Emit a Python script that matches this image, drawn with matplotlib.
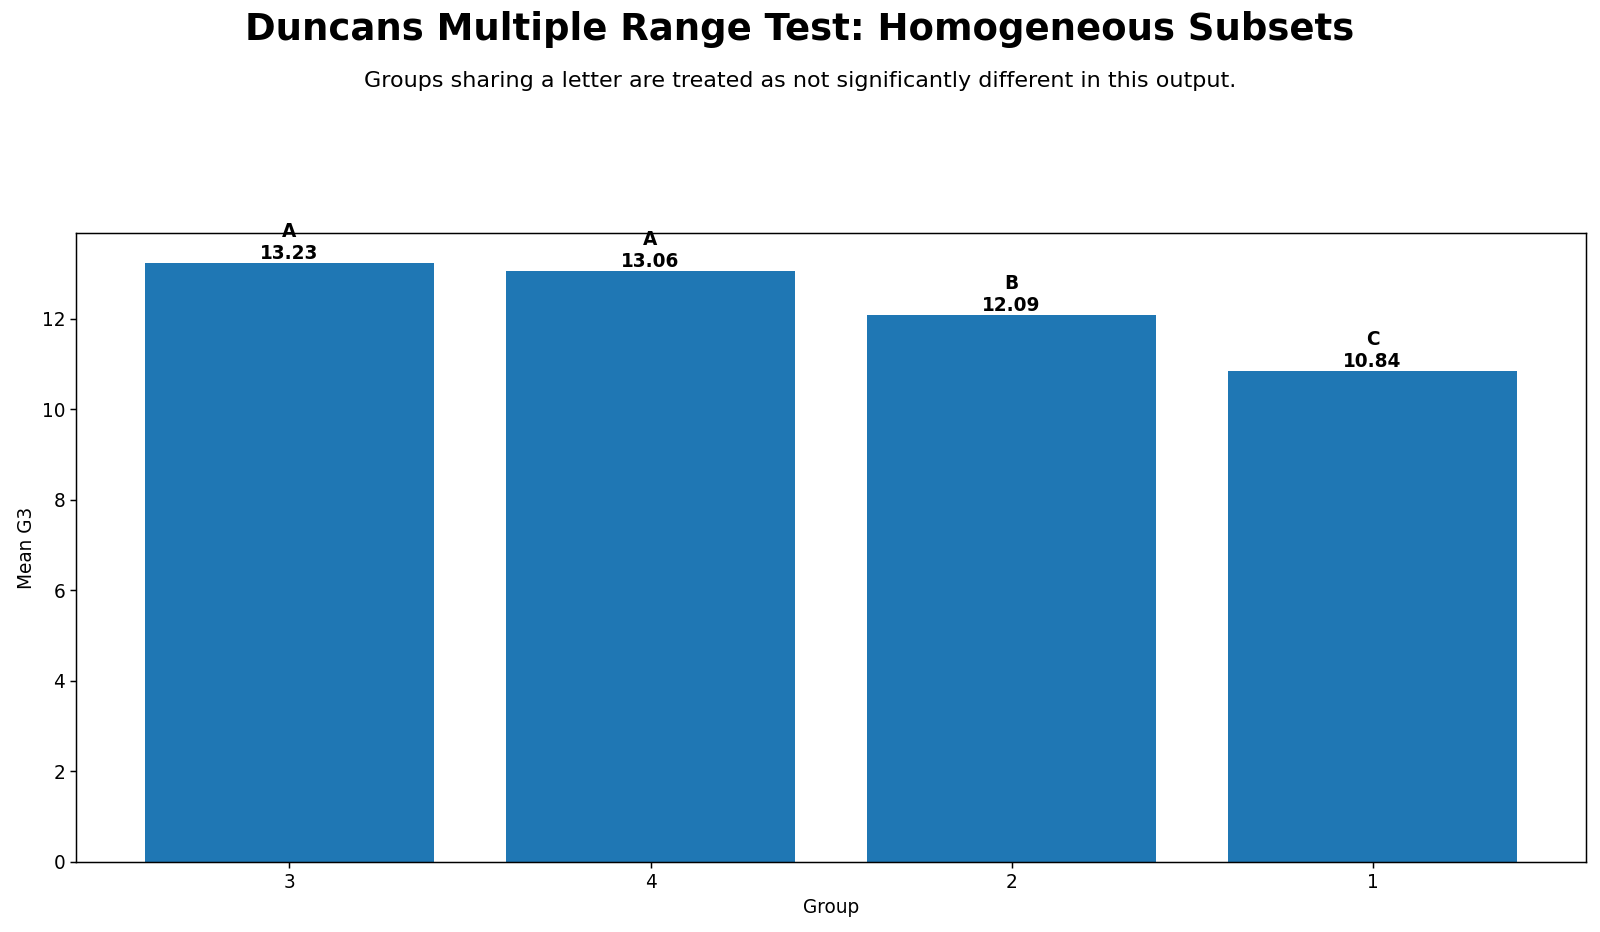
import matplotlib.pyplot as plt

groups = ["3", "4", "2", "1"]
means = [13.23, 13.06, 12.09, 10.84]
letters = ["A", "A", "B", "C"]

plt.rcParams["font.size"] = 13.33

fig, ax = plt.subplots(figsize=(16, 9.32), dpi=100)
fig.subplots_adjust(left=0.0478, right=0.991, bottom=0.0755, top=0.7495)

bars = ax.bar(groups, means, color="#1f77b4")
for bar, letter, m in zip(bars, letters, means):
    ax.text(bar.get_x() + bar.get_width() / 2, bar.get_height(),
            f"{letter}\n{m:.2f}", ha="center", va="bottom",
            fontsize=13.33, fontweight="bold")

ax.set_ylim(0, max(means) * 1.05)
ax.set_xlabel("Group")
ax.set_ylabel("Mean G3")
ax.tick_params(width=1.07, length=4.67)
for s in ax.spines.values():
    s.set_linewidth(1.07)

fig.suptitle("Duncans Multiple Range Test: Homogeneous Subsets",
             fontsize=26.67, fontweight="bold", y=0.988)
fig.text(0.5, 0.913, "Groups sharing a letter are treated as not significantly different in this output.",
         ha="center", va="center", fontsize=16)

plt.savefig("out.png", dpi=100)
